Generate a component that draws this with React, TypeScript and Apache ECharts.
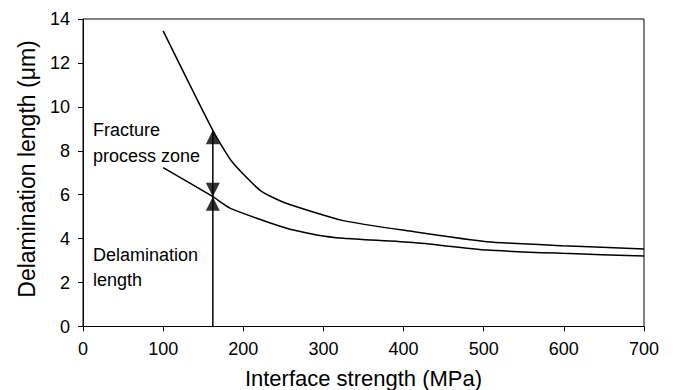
import React, { useEffect, useRef } from "react";
import * as echarts from "echarts";

const upperX = [100, 162, 186, 221, 250, 325, 412, 504, 599, 700];
const upperY = [13.46, 8.93, 7.5, 6.2, 5.66, 4.82, 4.32, 3.86, 3.68, 3.53];
const lowerX = [100, 162, 184, 250, 292, 325, 412, 504, 599, 700];
const lowerY = [7.23, 5.91, 5.38, 4.52, 4.17, 4.02, 3.82, 3.48, 3.33, 3.21];
const arrowX = 162;
const arrowTop = 8.93;
const arrowMid = 5.91;

const FONT = "'Liberation Sans', Arial, sans-serif";

export default function App() {
  const ref = useRef<HTMLDivElement>(null);
  useEffect(() => {
    if (!ref.current) return;
    const chart = echarts.init(ref.current, undefined, { renderer: "svg" });
    const line = { color: "#000", width: 1.5 };
    chart.setOption({
      animation: false,
      backgroundColor: "#fff",
      grid: {
        left: 83,
        right: 29,
        top: 19,
        bottom: 63.5,
        show: true,
        borderColor: "#000",
        borderWidth: 1,
        containLabel: false,
        outerBoundsMode: "none",
      },
      xAxis: {
        type: "value",
        min: 0,
        max: 700,
        interval: 100,
        name: "Interface strength (MPa)",
        nameLocation: "middle",
        nameGap: 41,
        nameTextStyle: { fontFamily: FONT, fontSize: 22, color: "#000" },
        axisLine: { lineStyle: { color: "#000" } },
        axisTick: { length: 5, lineStyle: { color: "#000" } },
        axisLabel: { fontFamily: FONT, fontSize: 18, color: "#000", margin: 13 },
        splitLine: { show: false },
      },
      yAxis: {
        type: "value",
        min: 0,
        max: 14,
        interval: 2,
        axisLine: { lineStyle: { color: "#000" } },
        axisTick: { length: 5, lineStyle: { color: "#000" } },
        axisLabel: { fontFamily: FONT, fontSize: 18, color: "#000", margin: 13 },
        splitLine: { show: false },
      },
      series: [
        {
          type: "line",
          data: upperX.map((x, i) => [x, upperY[i]]),
          symbol: "none",
          lineStyle: line,
          smooth: 0.2,
        },
        {
          type: "line",
          data: lowerX.map((x, i) => [x, lowerY[i]]),
          symbol: "none",
          lineStyle: line,
          smooth: 0.2,
        },
        {
          type: "line",
          data: [[arrowX, 0], [arrowX, arrowTop]],
          symbol: "none",
          lineStyle: { color: "#000", width: 1.5 },
        },
        {
          type: "scatter",
          data: [[arrowX, arrowTop], [arrowX, arrowMid]],
          symbol: "triangle",
          symbolSize: [14, 14],
          symbolOffset: [0, 7],
          itemStyle: { color: "#000" },
        },
        {
          type: "scatter",
          data: [[arrowX, arrowMid]],
          symbol: "triangle",
          symbolSize: [14, 14],
          symbolRotate: 180,
          symbolOffset: [0, -7],
          itemStyle: { color: "#000" },
        },
      ],
      graphic: [
        {
          type: "text",
          x: 27,
          y: 169,
          rotation: Math.PI / 2,
          style: { text: "Delamination length (μm)", font: `23px ${FONT}`, fill: "#000", align: "center", verticalAlign: "middle" },
        },
        { type: "text", left: 93, top: 121, style: { text: "Fracture", font: `18px ${FONT}`, fill: "#000" } },
        { type: "text", left: 93, top: 147, style: { text: "process zone", font: `18px ${FONT}`, fill: "#000" } },
        { type: "text", left: 93, top: 246, style: { text: "Delamination", font: `18px ${FONT}`, fill: "#000" } },
        { type: "text", left: 93, top: 271, style: { text: "length", font: `18px ${FONT}`, fill: "#000" } },
      ],
    });
    return () => chart.dispose();
  }, []);
  return <div ref={ref} style={{ width: 673, height: 390, position: "absolute", left: 0, top: 0 }} />;
}
